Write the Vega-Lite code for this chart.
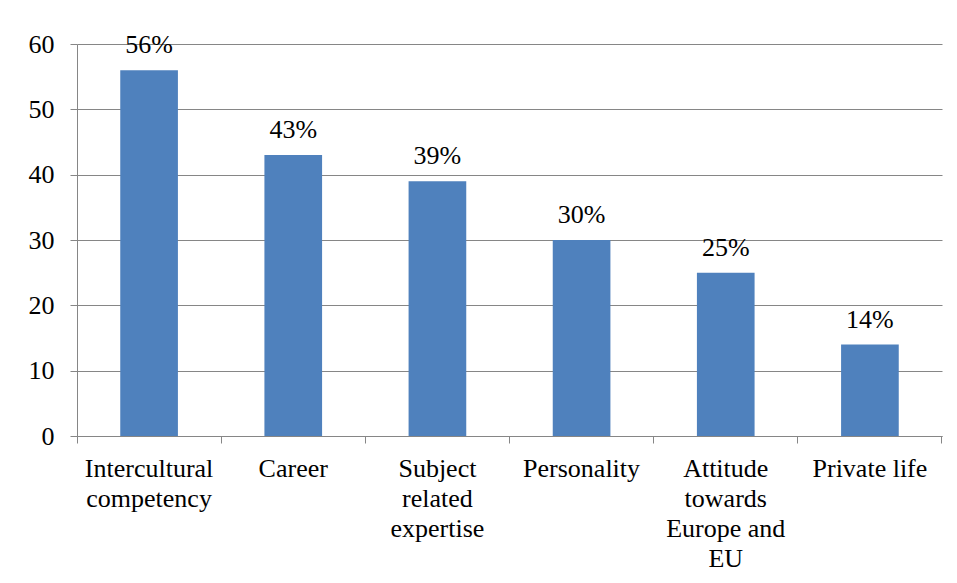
{
  "$schema": "https://vega.github.io/schema/vega-lite/v6.json",
  "autosize": "none",
  "width": 865,
  "height": 392,
  "padding": {"left": 77, "top": 44, "right": 15, "bottom": 147},
  "background": "white",
  "config": {
    "font": "Liberation Serif",
    "view": {"stroke": null}
  },
  "data": {
    "values": [
      {"category": "Intercultural competency", "value": 56},
      {"category": "Career", "value": 43},
      {"category": "Subject related expertise", "value": 39},
      {"category": "Personality", "value": 30},
      {"category": "Attitude towards Europe and EU", "value": 25},
      {"category": "Private life", "value": 14}
    ]
  },
  "transform": [{"calculate": "datum.value + '%'", "as": "label"}],
  "encoding": {
    "x": {
      "field": "category",
      "type": "nominal",
      "sort": null,
      "scale": {"paddingInner": 0, "paddingOuter": 0},
      "axis": {
        "title": null,
        "labelAngle": 0,
        "bandPosition": 1,
        "tickExtra": true,
        "tickSize": 7,
        "tickColor": "#868686",
        "domainColor": "#868686",
        "labelFont": "Liberation Serif",
        "labelFontSize": 26,
        "labelColor": "black",
        "labelPadding": 12,
        "labelLineHeight": 30,
        "labelLimit": 400,
        "labelOverlap": false,
        "labelBound": false,
        "labelBaseline": "top",
        "labelExpr": "datum.value == 'Intercultural competency' ? ['Intercultural', 'competency'] : datum.value == 'Subject related expertise' ? ['Subject', 'related', 'expertise'] : datum.value == 'Attitude towards Europe and EU' ? ['Attitude', 'towards', 'Europe and', 'EU'] : datum.value"
      }
    },
    "y": {
      "field": "value",
      "type": "quantitative",
      "scale": {"domain": [0, 60], "nice": false},
      "axis": {
        "title": null,
        "values": [0, 10, 20, 30, 40, 50, 60],
        "tickSize": 7,
        "tickColor": "#868686",
        "domainColor": "#868686",
        "gridColor": "#868686",
        "gridWidth": 1,
        "labelFont": "Liberation Serif",
        "labelFontSize": 26,
        "labelColor": "black",
        "labelPadding": 16
      }
    }
  },
  "layer": [
    {
      "mark": {"type": "bar", "color": "#4F81BD", "width": {"band": 0.4}}
    },
    {
      "mark": {"type": "text", "baseline": "alphabetic", "dy": -17, "fontSize": 26, "font": "Liberation Serif", "color": "black"},
      "encoding": {"text": {"field": "label"}}
    }
  ]
}
